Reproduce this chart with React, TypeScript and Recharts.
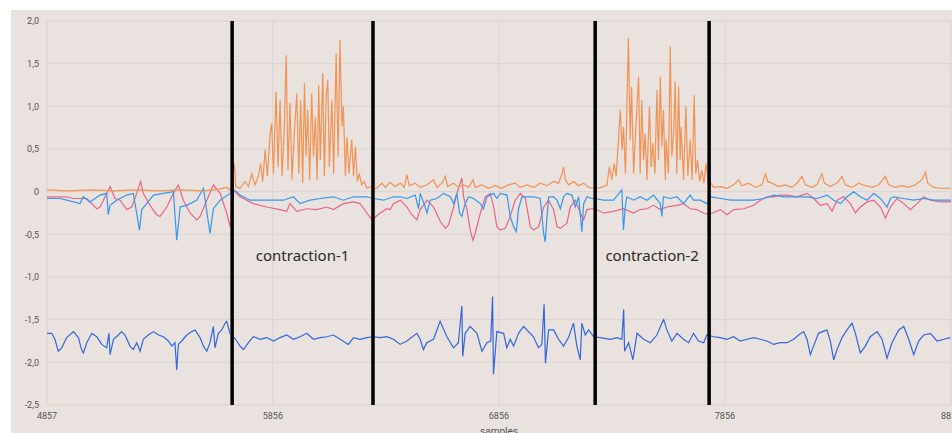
import {
  LineChart,
  Line,
  XAxis,
  YAxis,
  CartesianGrid,
  ReferenceLine,
  ReferenceArea,
} from 'recharts';

// axis ticks and the four phase markers (sample index)
const xTicks = [4857, 5856, 6856, 7856, 8856];
const yTicks = [-2.5, -2, -1.5, -1, -0.5, 0, 0.5, 1, 1.5, 2];
const markers = [5676, 6299, 7282, 7786];
const phases = [
  { name: 'contraction-1', from: 5676, to: 6299 },
  { name: 'contraction-2', from: 7282, to: 7786 },
];

// [sample, value]
const pinkSeries: [number, number][] = [
  [4857, -0.06], [4944, -0.06], [4974, -0.08], [5033, -0.08], [5077, -0.2], [5092, -0.18],
  [5114, -0.06], [5136, 0.06], [5158, -0.08], [5180, -0.1], [5210, -0.21], [5232, -0.18],
  [5254, -0.02], [5271, 0.12], [5283, -0.02], [5313, -0.16], [5342, -0.27], [5357, -0.29],
  [5387, -0.18], [5416, -0.02], [5438, 0.08], [5460, -0.1], [5490, -0.25], [5519, -0.33],
  [5534, -0.29], [5564, -0.1], [5593, 0.08], [5623, -0.02], [5652, -0.25], [5667, -0.41],
  [5682, 0.02], [5711, -0.06], [5741, -0.1], [5770, -0.14], [5829, -0.18], [5888, -0.21],
  [5918, -0.23], [5932, -0.14], [5962, -0.23], [6006, -0.2], [6050, -0.21], [6095, -0.18],
  [6124, -0.21], [6168, -0.14], [6213, -0.12], [6242, -0.14], [6272, -0.25], [6294, -0.33],
  [6331, -0.25], [6361, -0.2], [6375, -0.21], [6390, -0.14], [6420, -0.1], [6449, -0.18],
  [6471, -0.27], [6493, -0.33], [6508, -0.21], [6538, -0.1], [6567, -0.18], [6597, -0.35],
  [6619, -0.43], [6633, -0.39], [6656, -0.18], [6670, -0.02], [6692, 0.16], [6700, -0.06],
  [6715, -0.21], [6729, -0.45], [6741, -0.57], [6751, -0.49], [6774, -0.25], [6796, -0.06],
  [6818, -0.02], [6833, -0.18], [6847, -0.41], [6862, -0.45], [6884, -0.43], [6906, -0.29],
  [6928, -0.1], [6951, -0.02], [6973, -0.08], [6995, -0.41], [7010, -0.45], [7032, -0.41],
  [7054, -0.18], [7076, -0.1], [7098, -0.21], [7113, -0.41], [7128, -0.43], [7157, -0.37],
  [7172, -0.18], [7194, -0.1], [7216, -0.25], [7231, -0.33], [7246, -0.21], [7268, -0.2],
  [7280, -0.2], [7319, -0.25], [7363, -0.23], [7407, -0.2], [7452, -0.25], [7481, -0.21],
  [7511, -0.2], [7540, -0.16], [7570, -0.21], [7599, -0.18], [7643, -0.16], [7673, -0.14],
  [7702, -0.2], [7732, -0.21], [7761, -0.25], [7783, -0.27], [7836, -0.21], [7865, -0.27],
  [7895, -0.21], [7939, -0.2], [7983, -0.16], [8013, -0.1], [8042, -0.06], [8072, -0.06],
  [8101, -0.04], [8131, -0.04], [8175, -0.06], [8219, -0.02], [8249, -0.08], [8278, -0.16],
  [8308, -0.14], [8330, -0.23], [8352, -0.1], [8381, -0.06], [8411, -0.14], [8433, -0.25],
  [8455, -0.18], [8485, -0.12], [8514, -0.1], [8544, -0.18], [8566, -0.31], [8588, -0.18],
  [8617, -0.08], [8647, -0.14], [8676, -0.21], [8706, -0.14], [8735, -0.06], [8765, -0.1],
  [8809, -0.12], [8856, -0.12],
];

const lightBlueSeries: [number, number][] = [
  [4857, -0.08], [4915, -0.08], [4944, -0.1], [5003, -0.14], [5018, -0.06], [5047, -0.12],
  [5092, -0.04], [5121, -0.02], [5128, -0.27], [5136, -0.16], [5165, -0.1], [5210, -0.04],
  [5239, -0.02], [5266, -0.45], [5276, -0.21], [5298, -0.14], [5328, -0.04], [5372, -0.02],
  [5416, 0.0], [5431, -0.57], [5446, -0.18], [5475, -0.16], [5519, -0.1], [5549, 0.04],
  [5578, -0.49], [5593, -0.2], [5623, -0.1], [5667, -0.02], [5682, 0.02], [5696, 0.0],
  [5711, -0.04], [5755, -0.1], [5829, -0.1], [5903, -0.1], [5947, -0.06], [5977, -0.14],
  [6021, -0.1], [6065, -0.08], [6124, -0.06], [6168, -0.1], [6213, -0.06], [6272, -0.06],
  [6301, -0.08], [6346, -0.1], [6390, -0.06], [6420, -0.06], [6449, -0.08], [6486, -0.04],
  [6501, -0.2], [6508, -0.02], [6530, -0.18], [6538, -0.25], [6552, -0.1], [6582, -0.08],
  [6611, -0.02], [6641, -0.06], [6656, -0.14], [6670, -0.02], [6682, -0.25], [6692, -0.29],
  [6707, -0.14], [6722, -0.06], [6744, -0.08], [6774, -0.14], [6788, -0.2], [6803, -0.06],
  [6833, -0.02], [6847, -0.08], [6862, -0.02], [6892, -0.04], [6906, -0.29], [6921, -0.41],
  [6933, -0.47], [6943, -0.2], [6958, -0.06], [6980, -0.06], [7010, -0.06], [7039, -0.08],
  [7054, -0.49], [7061, -0.59], [7069, -0.29], [7076, -0.06], [7098, -0.06], [7113, -0.1],
  [7128, -0.2], [7142, -0.06], [7157, -0.02], [7179, -0.04], [7194, -0.18], [7209, -0.06],
  [7223, -0.47], [7231, -0.14], [7246, -0.06], [7268, -0.08], [7280, -0.08], [7319, -0.1],
  [7363, -0.1], [7400, 0.02], [7407, -0.45], [7415, -0.18], [7422, -0.06], [7452, -0.1],
  [7481, -0.06], [7511, -0.1], [7540, -0.04], [7570, -0.14], [7577, -0.29], [7584, -0.06],
  [7614, -0.08], [7643, -0.06], [7673, -0.14], [7702, -0.04], [7717, -0.1], [7747, -0.1],
  [7776, -0.14], [7791, -0.06], [7836, -0.08], [7880, -0.1], [7924, -0.1], [7983, -0.1],
  [8027, -0.08], [8072, -0.04], [8116, -0.06], [8160, -0.06], [8219, -0.06], [8263, -0.08],
  [8308, -0.04], [8337, -0.1], [8367, -0.14], [8396, -0.06], [8426, 0.0], [8455, -0.06],
  [8485, -0.1], [8514, -0.02], [8544, -0.08], [8573, -0.18], [8588, -0.08], [8603, -0.06],
  [8647, -0.08], [8691, -0.1], [8735, -0.08], [8780, -0.1], [8824, -0.1], [8856, -0.1],
];

const orangeSeries: [number, number][] = [
  [4857, 0.02], [4950, 0.01], [5050, 0.02], [5150, 0.01], [5250, 0.02], [5350, 0.01],
  [5450, 0.02], [5550, 0.01], [5620, 0.03], [5650, 0.05], [5668, 0.02], [5686, 0.33],
  [5692, 0.06], [5711, 0.04], [5733, 0.12], [5748, 0.06], [5763, 0.21], [5777, 0.08],
  [5792, 0.18], [5802, 0.33], [5811, 0.12], [5822, 0.49], [5832, 0.18], [5844, 0.68],
  [5851, 0.8], [5859, 0.21], [5870, 1.17], [5879, 0.29], [5888, 1.07], [5897, 0.18],
  [5906, 0.68], [5915, 1.6], [5923, 0.25], [5932, 1.04], [5941, 0.14], [5951, 0.68],
  [5962, 1.15], [5971, 0.21], [5979, 1.07], [5988, 0.1], [5996, 1.27], [6003, 0.41],
  [6010, 0.96], [6019, 0.14], [6028, 1.15], [6036, 0.41], [6044, 0.88], [6052, 0.14],
  [6059, 1.25], [6066, 0.37], [6077, 1.39], [6084, 0.18], [6092, 1.11], [6099, 1.31],
  [6106, 0.29], [6117, 1.07], [6125, 0.21], [6136, 1.62], [6145, 0.41], [6153, 1.78],
  [6162, 0.76], [6168, 1.0], [6177, 0.18], [6184, 0.64], [6193, 0.21], [6205, 0.61],
  [6213, 0.18], [6221, 0.53], [6230, 0.12], [6238, 0.21], [6249, 0.08], [6260, 0.12],
  [6272, 0.04], [6286, 0.06], [6301, 0.04], [6316, 0.04], [6338, 0.1], [6353, 0.05],
  [6375, 0.11], [6397, 0.06], [6420, 0.1], [6437, 0.05], [6449, 0.2], [6459, 0.07],
  [6486, 0.1], [6508, 0.05], [6538, 0.08], [6567, 0.14], [6582, 0.05], [6604, 0.1],
  [6619, 0.18], [6629, 0.06], [6656, 0.1], [6678, 0.05], [6700, 0.08], [6722, 0.05],
  [6741, 0.14], [6751, 0.05], [6781, 0.08], [6810, 0.04], [6840, 0.07], [6869, 0.04],
  [6899, 0.08], [6928, 0.1], [6951, 0.05], [6980, 0.08], [7010, 0.05], [7039, 0.1],
  [7069, 0.07], [7098, 0.12], [7120, 0.1], [7135, 0.21], [7142, 0.29], [7150, 0.14],
  [7164, 0.08], [7187, 0.12], [7209, 0.07], [7231, 0.1], [7253, 0.05], [7275, 0.04],
  [7289, 0.04], [7311, 0.05], [7334, 0.08], [7345, 0.29], [7356, 0.14], [7366, 0.33],
  [7375, 0.18], [7385, 0.61], [7393, 0.96], [7401, 0.49], [7407, 0.76], [7416, 0.21],
  [7429, 1.8], [7437, 0.61], [7443, 1.23], [7452, 0.21], [7459, 0.61], [7466, 0.96],
  [7474, 1.35], [7481, 0.21], [7488, 1.07], [7496, 0.37], [7503, 0.68], [7511, 0.14],
  [7522, 1.0], [7530, 0.29], [7537, 0.57], [7546, 0.21], [7555, 1.19], [7562, 0.37],
  [7570, 1.35], [7577, 0.53], [7584, 0.96], [7592, 0.14], [7596, 0.61], [7606, 0.21],
  [7614, 1.7], [7621, 0.41], [7629, 0.68], [7636, 1.29], [7643, 0.21], [7651, 1.23],
  [7658, 0.37], [7662, 0.76], [7673, 0.14], [7683, 1.0], [7692, 0.18], [7702, 0.61],
  [7711, 0.14], [7720, 1.13], [7727, 0.21], [7735, 0.37], [7744, 0.12], [7754, 0.25],
  [7763, 0.1], [7773, 0.33], [7782, 0.12], [7794, 0.1], [7806, 0.05], [7836, 0.06],
  [7865, 0.04], [7895, 0.08], [7917, 0.14], [7931, 0.07], [7961, 0.1], [7990, 0.05],
  [8020, 0.08], [8035, 0.21], [8045, 0.12], [8064, 0.1], [8094, 0.06], [8123, 0.08],
  [8153, 0.05], [8175, 0.1], [8197, 0.18], [8212, 0.08], [8241, 0.05], [8263, 0.08],
  [8285, 0.21], [8296, 0.1], [8322, 0.06], [8352, 0.1], [8374, 0.18], [8389, 0.08],
  [8418, 0.05], [8448, 0.1], [8477, 0.07], [8507, 0.05], [8536, 0.08], [8566, 0.18],
  [8580, 0.08], [8610, 0.05], [8640, 0.07], [8669, 0.05], [8698, 0.08], [8728, 0.14],
  [8743, 0.23], [8753, 0.1], [8780, 0.05], [8809, 0.04], [8856, 0.04],
];

const darkBlueSeries: [number, number][] = [
  [4857, -1.66], [4878, -1.66], [4892, -1.73], [4907, -1.87], [4922, -1.83], [4944, -1.71],
  [4974, -1.64], [4996, -1.71], [5010, -1.85], [5018, -1.89], [5033, -1.77], [5055, -1.66],
  [5077, -1.7], [5099, -1.79], [5121, -1.83], [5131, -1.66], [5136, -1.91], [5151, -1.73],
  [5173, -1.68], [5187, -1.64], [5202, -1.68], [5224, -1.81], [5239, -1.85], [5254, -1.77],
  [5269, -1.87], [5283, -1.73], [5305, -1.68], [5328, -1.64], [5350, -1.68], [5372, -1.7],
  [5394, -1.75], [5409, -1.81], [5423, -1.77], [5431, -2.09], [5438, -1.79], [5453, -1.75],
  [5475, -1.68], [5497, -1.64], [5512, -1.62], [5534, -1.71], [5549, -1.81], [5564, -1.87],
  [5578, -1.77], [5593, -1.58], [5600, -1.83], [5615, -1.66], [5630, -1.62], [5645, -1.54],
  [5652, -1.52], [5667, -1.66], [5682, -1.7], [5696, -1.75], [5711, -1.81], [5726, -1.85],
  [5748, -1.77], [5770, -1.7], [5800, -1.73], [5829, -1.71], [5859, -1.75], [5888, -1.71],
  [5918, -1.68], [5947, -1.73], [5977, -1.7], [6006, -1.66], [6036, -1.73], [6065, -1.71],
  [6095, -1.7], [6124, -1.68], [6154, -1.73], [6190, -1.79], [6213, -1.71], [6242, -1.73],
  [6272, -1.71], [6301, -1.7], [6331, -1.71], [6360, -1.7], [6390, -1.73], [6419, -1.79],
  [6449, -1.75], [6493, -1.66], [6508, -1.73], [6522, -1.85], [6537, -1.77], [6567, -1.73],
  [6596, -1.52], [6626, -1.7], [6655, -1.83], [6677, -1.77], [6692, -1.34], [6696, -1.93],
  [6707, -1.66], [6729, -1.58], [6759, -1.66], [6781, -1.87], [6803, -1.77], [6820, -1.75],
  [6828, -1.23], [6832, -2.14], [6847, -1.64], [6877, -1.66], [6891, -1.83], [6906, -1.73],
  [6921, -1.81], [6943, -1.66], [6965, -1.58], [6987, -1.64], [7009, -1.7], [7031, -1.83],
  [7046, -1.79], [7056, -1.32], [7062, -2.01], [7076, -1.62], [7098, -1.62], [7120, -1.73],
  [7142, -1.81], [7164, -1.71], [7186, -1.54], [7201, -1.81], [7216, -1.97], [7223, -1.54],
  [7238, -1.68], [7253, -1.62], [7275, -1.7], [7304, -1.71], [7349, -1.73], [7378, -1.71],
  [7400, -1.73], [7408, -1.38], [7412, -1.87], [7430, -1.77], [7449, -1.97], [7467, -1.66],
  [7496, -1.73], [7526, -1.77], [7555, -1.68], [7577, -1.54], [7585, -1.5], [7599, -1.62],
  [7621, -1.75], [7644, -1.66], [7673, -1.73], [7695, -1.77], [7717, -1.66], [7739, -1.75],
  [7762, -1.77], [7776, -1.68], [7806, -1.7], [7835, -1.71], [7865, -1.73], [7894, -1.7],
  [7924, -1.75], [7953, -1.73], [7983, -1.71], [8012, -1.73], [8042, -1.75], [8071, -1.79],
  [8101, -1.77], [8130, -1.77], [8160, -1.73], [8182, -1.68], [8204, -1.64], [8219, -1.73],
  [8234, -1.91], [8248, -1.81], [8270, -1.66], [8307, -1.62], [8322, -1.75], [8337, -1.97],
  [8352, -1.85], [8374, -1.71], [8396, -1.62], [8418, -1.54], [8433, -1.66], [8455, -1.89],
  [8477, -1.81], [8499, -1.7], [8529, -1.64], [8551, -1.73], [8573, -1.95], [8595, -1.77],
  [8625, -1.62], [8647, -1.58], [8669, -1.73], [8691, -1.91], [8713, -1.75], [8735, -1.68],
  [8765, -1.66], [8794, -1.75], [8824, -1.73], [8853, -1.71],
];

const toPoints = (arr: [number, number][]) => arr.map(([s, v]) => ({ s, v }));

const fmtY = (v: number) => (v === 0 ? '0' : v.toFixed(1).replace('.', ','));

const tickStyle = { fontSize: 9, fill: '#555', fontFamily: 'Roboto, sans-serif' };

export default function App() {
  return (
    <div>
      <style>{'body{margin:0;overflow:hidden;background:#fff}'}</style>
      <div style={{ position: 'absolute', left: 11, top: 10 }}>
        <LineChart
          width={941}
          height={423}
          margin={{ top: 11, right: 1, bottom: 0, left: 0 }}
          style={{ background: '#e9e2df' }}
        >
          <CartesianGrid stroke="#dad3d0" strokeWidth={1} />
          <XAxis
            type="number"
            dataKey="s"
            domain={[4857, 8856]}
            ticks={xTicks}
            interval={0}
            axisLine={false}
            tickLine={false}
            height={28}
            tick={tickStyle}
            allowDataOverflow
            label={{ value: 'samples', position: 'insideBottom', offset: -2, fontSize: 10, fill: '#555', fontFamily: 'Roboto, sans-serif' }}
          />
          <YAxis
            type="number"
            domain={[-2.5, 2]}
            ticks={yTicks}
            interval={0}
            axisLine={false}
            tickLine={false}
            width={36}
            tick={tickStyle}
            tickFormatter={fmtY}
            allowDataOverflow
          />
          <Line data={toPoints(pinkSeries)} dataKey="v" stroke="#e8658a" strokeWidth={1.2} dot={false} isAnimationActive={false} />
          <Line data={toPoints(lightBlueSeries)} dataKey="v" stroke="#3598ec" strokeWidth={1.2} dot={false} isAnimationActive={false} />
          <Line data={toPoints(orangeSeries)} dataKey="v" stroke="#f39253" strokeWidth={1.2} dot={false} isAnimationActive={false} />
          <Line data={toPoints(darkBlueSeries)} dataKey="v" stroke="#3466dd" strokeWidth={1.2} dot={false} isAnimationActive={false} />
          {markers.map((m) => (
            <ReferenceLine key={m} x={m} stroke="#000" strokeWidth={3.5} />
          ))}
          {phases.map((p) => (
            <ReferenceArea
              key={p.name}
              x1={p.from}
              x2={p.to}
              y1={-0.9}
              y2={-0.6}
              fill="none"
              fillOpacity={0}
              stroke="none"
              label={{ value: p.name, position: 'center', fontSize: 15, fill: '#2a2a2a', fontFamily: '"Noto Sans", sans-serif' }}
            />
          ))}
        </LineChart>
      </div>
    </div>
  );
}
